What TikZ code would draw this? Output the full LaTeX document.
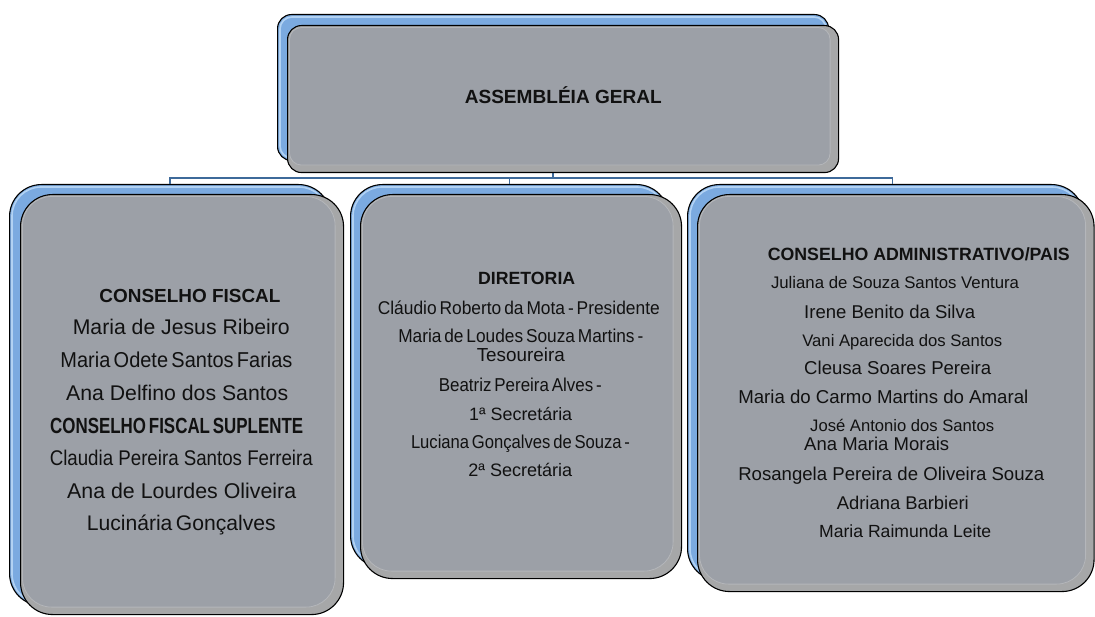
\documentclass[tikz,border=0pt]{standalone}
\usepackage{fontspec}
\usepackage{graphicx}
\setmainfont{Liberation Sans}
\newfontfamily\tightfont[WordSpace=0.6]{Liberation Sans}
\definecolor{bluefill}{HTML}{7BAAE0}
\definecolor{bluelight}{HTML}{B2D2F3}
\definecolor{outerfill}{HTML}{A6A7A8}
\definecolor{panelfill}{HTML}{9CA0A7}
\definecolor{panelline}{HTML}{B4B6BA}
\definecolor{connc}{HTML}{3E6A9A}
\definecolor{txtc}{HTML}{111111}
\newcommand\nline[5]{\node[txt] (#1) at (#2,#3) {\resizebox{#4pt}{!}{#5}};}
\newcommand\hnline[6]{\node[txt] (#1) at (#2,#3) {\resizebox{#4pt}{#5pt}{#6}};}
\tikzset{
  backbox/.style={draw=black, line width=1.1pt, fill=bluefill, rounded corners=#1,
    inner sep=0pt, anchor=north west, shape=rectangle},
  backhi/.style={draw=bluelight, line width=1.6pt, rounded corners=#1},
  frontbox/.style={draw=black, line width=1.1pt, fill=outerfill, rounded corners=#1,
    inner sep=0pt, anchor=north west, shape=rectangle},
  panel/.style={fill=panelfill, draw=panelline, line width=0.8pt, rounded corners=#1},
  conn/.style={draw=connc, line width=1.7pt},
  txt/.style={anchor=base, inner sep=0pt, text=txtc, font=\fontsize{20}{24}\selectfont}
}
\begin{document}
\begin{tikzpicture}[x=1pt,y=-1pt]
\useasboundingbox (0,0) rectangle (1095,617);
\fill[white] (0,0) rectangle (1095,617);

% back boxes
\node[backbox=14pt, minimum width=551pt, minimum height=146pt] (Tb) at (277,14) {};
\node[backbox=32pt, minimum width=321pt, minimum height=421pt] (Lb) at (9,184) {};
\node[backbox=32pt, minimum width=318pt, minimum height=383pt] (Mb) at (350,184) {};
\node[backbox=32pt, minimum width=396pt, minimum height=396pt] (Rb) at (687,184) {};
\draw[backhi=12pt] ([xshift=3pt,yshift=-3pt]Tb.north west) rectangle ([xshift=-3pt,yshift=3pt]Tb.south east);
\draw[backhi=29pt] ([xshift=3pt,yshift=-3pt]Lb.north west) rectangle ([xshift=-3pt,yshift=3pt]Lb.south east);
\draw[backhi=29pt] ([xshift=3pt,yshift=-3pt]Mb.north west) rectangle ([xshift=-3pt,yshift=3pt]Mb.south east);
\draw[backhi=29pt] ([xshift=3pt,yshift=-3pt]Rb.north west) rectangle ([xshift=-3pt,yshift=3pt]Rb.south east);

% connectors
\path (Tb.south) ++(0,17) coordinate (bus);
\draw[conn] (Tb.south) -- (bus) -| (Lb.north);
\draw[conn] (bus) -| (Mb.north);
\draw[conn] (bus) -| ([xshift=7pt]Rb.north);

% front boxes
\node[frontbox=14pt, minimum width=551pt, minimum height=147pt] (T) at (287,25) {};
\node[frontbox=32pt, minimum width=323pt, minimum height=420pt] (L) at (20,194) {};
\node[frontbox=32pt, minimum width=321pt, minimum height=384pt] (M) at (360,194) {};
\node[frontbox=32pt, minimum width=396.5pt, minimum height=397pt] (R) at (697,194) {};
\path[panel=12pt] ([xshift=2.5pt,yshift=-2.5pt]T.north west) rectangle ([xshift=-9pt,yshift=8pt]T.south east);
\path[panel=29pt] ([xshift=2.5pt,yshift=-2.5pt]L.north west) rectangle ([xshift=-9pt,yshift=8pt]L.south east);
\path[panel=29pt] ([xshift=2.5pt,yshift=-2.5pt]M.north west) rectangle ([xshift=-9pt,yshift=8pt]M.south east);
\path[panel=29pt] ([xshift=2.5pt,yshift=-2.5pt]R.north west) rectangle ([xshift=-9pt,yshift=8pt]R.south east);

% title
\nline{t1}{563.3}{104}{197}{\bfseries ASSEMBLÉIA GERAL}

% left box
\nline{l1}{190}{302.7}{181}{\bfseries CONSELHO FISCAL}
\nline{l2}{181.3}{335}{217}{Maria de Jesus Ribeiro}
\hnline{l3}{176.5}{367.3}{232}{15.6}{\tightfont Maria Odete Santos Farias}
\nline{l4}{177.2}{400}{222}{Ana Delfino dos Santos}
\hnline{l5}{176.7}{433.3}{253}{15.3}{\tightfont\bfseries CONSELHO FISCAL SUPLENTE}
\hnline{l6}{181.3}{465}{263}{15.4}{Claudia Pereira Santos Ferreira}
\nline{l7}{181.7}{498.3}{229}{Ana de Lourdes Oliveira}
\nline{l8}{181.3}{530}{189}{\tightfont Lucinária Gonçalves}

% middle box
\nline{m1}{526.7}{285}{97}{\bfseries DIRETORIA}
\hnline{m2}{518.8}{314.3}{282}{13.6}{\tightfont Cláudio Roberto da Mota - Presidente}
\hnline{m3}{520.8}{342.7}{245}{13.5}{\tightfont Maria de Loudes Souza Martins -}
\nline{m4}{520.8}{361.7}{88}{Tesoureira}
\hnline{m5}{520.3}{391.7}{163}{13.5}{\tightfont Beatriz Pereira Alves -}
\nline{m6}{520.7}{420}{103}{1ª Secretária}
\hnline{m7}{520.5}{448.3}{219}{13.5}{\tightfont Luciana Gonçalves de Souza -}
\nline{m8}{520.3}{476}{104}{2ª Secretária}

% right box
\nline{r1}{918.8}{260.7}{302}{\bfseries CONSELHO ADMINISTRATIVO/PAIS}
\nline{r2}{895}{289}{248}{Juliana de Souza Santos Ventura}
\nline{r3}{889.7}{318.3}{171}{Irene Benito da Silva}
\nline{r4}{902.3}{346.7}{200}{Vani Aparecida dos Santos}
\nline{r5}{897.7}{375}{187}{Cleusa Soares Pereira}
\nline{r6}{883.3}{403.3}{290}{Maria do Carmo Martins do Amaral}
\nline{r7}{902.2}{431.7}{184}{José Antonio dos Santos}
\nline{r8}{876.7}{450.7}{145}{Ana Maria Morais}
\nline{r9}{891.3}{480.7}{306}{Rosangela Pereira de Oliveira Souza}
\nline{r10}{902.8}{509.3}{132}{Adriana Barbieri}
\nline{r11}{905.2}{537.3}{172}{Maria Raimunda Leite}
\end{tikzpicture}
\end{document}
